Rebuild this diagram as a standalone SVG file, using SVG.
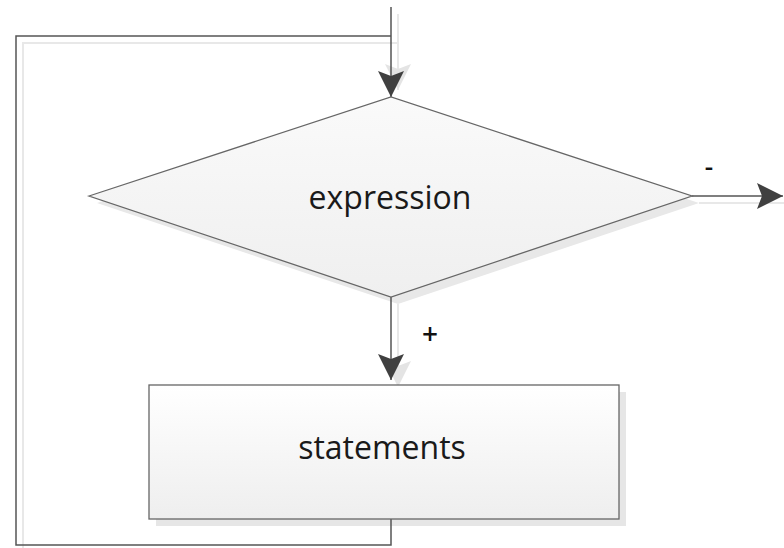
<svg xmlns="http://www.w3.org/2000/svg" width="784" height="548" viewBox="0 0 784 548">
<defs>
<linearGradient id="gBox" x1="0" y1="0" x2="0" y2="1"><stop offset="0" stop-color="#ffffff"/><stop offset="1" stop-color="#eeeeee"/></linearGradient>
<linearGradient id="gDia" x1="0" y1="0" x2="0" y2="1"><stop offset="0" stop-color="#fafafa"/><stop offset="1" stop-color="#efefef"/></linearGradient>
<marker id="ah" markerUnits="userSpaceOnUse" markerWidth="28" markerHeight="28" viewBox="0 0 28 28" refX="26" refY="13" orient="auto"><path d="M0,0 L26,13 L0,26 L5,13 Z" fill="#404040"/></marker>
<marker id="ahs" markerUnits="userSpaceOnUse" markerWidth="28" markerHeight="28" viewBox="0 0 28 28" refX="26" refY="13" orient="auto"><path d="M0,0 L26,13 L0,26 L5,13 Z" fill="#e4e4e4"/></marker>
</defs>
<style>
.ln{fill:none;stroke:#555;stroke-width:1.5}
.sh{fill:none;stroke:#e8e8e8;stroke-width:2}
.lbl{font-family:"Open Sans","Liberation Sans",sans-serif;fill:#1a1a1a}
.sig{font-family:"Open Sans","Liberation Sans",sans-serif;fill:#111;font-weight:600}
</style>
<rect width="784" height="548" fill="#ffffff"/>
<g id="shadows">
<path class="sh" d="M398,14 V90" marker-end="url(#ahs)"/>
<path class="sh" d="M398,43 H23 V552"/>
<path class="sh" d="M398,304 V387" marker-end="url(#ahs)"/>
<path class="sh" d="M699,203 H790"/>
<polygon points="97,203 398,104 699,203 398,304" fill="#e8e8e8"/>
<rect x="156" y="392" width="470" height="134" fill="#e6e6e6"/>
</g>
<g id="connectors">
<path class="ln" d="M391,7 V97" marker-end="url(#ah)"/>
<path class="ln" d="M391,519 V545 H16 V36 H391"/>
<path class="ln" d="M391,297 V380" marker-end="url(#ah)"/>
<path class="ln" d="M692,196 H783" marker-end="url(#ah)"/>
<text class="sig" x="709" y="176" font-size="26" text-anchor="middle">-</text>
<text class="sig" x="430" y="344" font-size="28" text-anchor="middle">+</text>
</g>
<g id="expression">
<polygon points="89,196 391,97 692,196 391,297" fill="url(#gDia)" stroke="#666" stroke-width="1.3"/>
<text class="lbl" x="390" y="209" font-size="32" text-anchor="middle">expression</text>
</g>
<g id="statements">
<rect x="149" y="385" width="470" height="134" fill="url(#gBox)" stroke="#666" stroke-width="1.3"/>
<text class="lbl" x="382" y="459" font-size="32" text-anchor="middle">statements</text>
</g>
</svg>
